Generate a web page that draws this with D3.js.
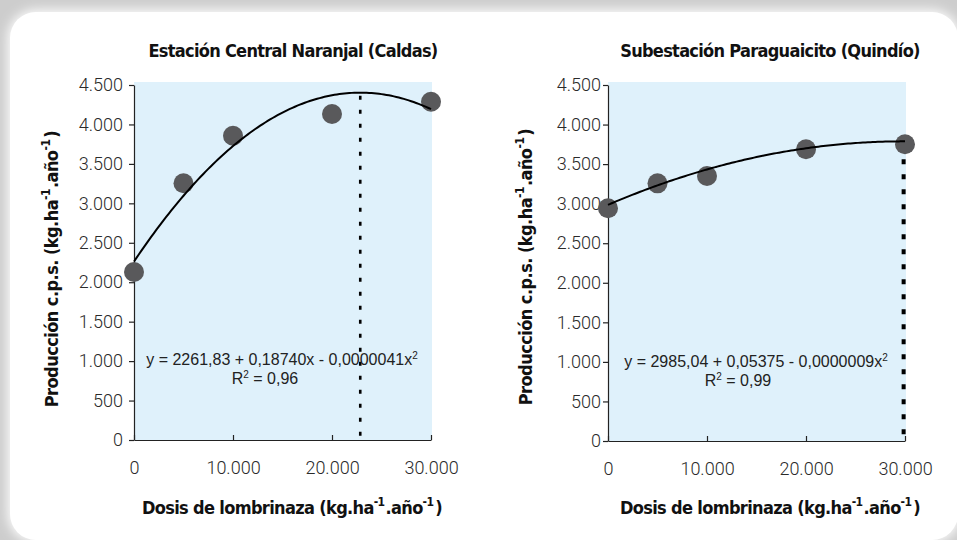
<!DOCTYPE html>
<html>
<head>
<meta charset="utf-8">
<script src="https://cdn.jsdelivr.net/npm/d3@7"></script>
<style>
  html, body { margin: 0; padding: 0; background: #fff; }
  svg { display: block; }
</style>
</head>
<body>
<svg id="chart" width="957" height="540"></svg>
<script>
// Doses of vermicompost applied (kg/ha/year)
const doses = [0, 5000, 10000, 20000, 30000];
// Coffee production (kg c.p.s./ha/year) at each station
const naranjalYield = [2130, 3254, 3857, 4132, 4288];
const paraguaicitoYield = [2942, 3257, 3350, 3688, 3751];
// Fitted quadratic coefficients [a, b, c] for y = a + b·x + c·x²
const naranjalCoef = [2261.83, 0.18740, -0.0000041];
const paraguaicitoCoef = [2985.04, 0.05375, -0.0000009];
// Axis ticks
const yTicks = [0, 500, 1000, 1500, 2000, 2500, 3000, 3500, 4000, 4500];
const xTicks = [0, 10000, 20000, 30000];
// Titles and text
const titles = ["Estación Central Naranjal (Caldas)", "Subestación Paraguaicito (Quindío)"];
const equations = ["y = 2261,83 + 0,18740x - 0,0000041x", "y = 2985,04 + 0,05375 - 0,0000009x"];
const r2Labels = ["R", "R"];
const r2Values = [" = 0,96", " = 0,99"];

const svg = d3.select("#chart");
const W = 957, H = 540;

const boldFont = "'Liberation Sans Narrow', 'DejaVu Sans Condensed', 'Roboto Condensed', sans-serif";
const lightFont = "Roboto, 'Open Sans', sans-serif";
const eqFont = "'Liberation Sans', Arial, sans-serif";

const locale = d3.formatLocale({ decimal: ",", thousands: ".", grouping: [3], currency: ["", ""] });
const fmt = locale.format(",");

// Backdrop: grey surround with a softly glowing white rounded card
const defs = svg.append("defs");
const glow = defs.append("filter").attr("id", "glow")
  .attr("x", "-5%").attr("y", "-5%").attr("width", "110%").attr("height", "110%");
glow.append("feGaussianBlur").attr("stdDeviation", 6);

svg.append("rect").attr("width", W).attr("height", H).attr("fill", "#cdcdcd");
svg.append("rect").attr("x", 8).attr("y", 10).attr("width", 952).attr("height", 532)
  .attr("rx", 28).attr("fill", "#ffffff").attr("filter", "url(#glow)");
svg.append("rect").attr("x", 10).attr("y", 12).attr("width", 948).attr("height", 528)
  .attr("rx", 26).attr("fill", "#ffffff");

const panels = [
  {
    yieldVals: naranjalYield, coef: naranjalCoef,
    x0: 134, x1: 431, y0: 440, y1: 85, bgTop: 82,
    tickPad: 6, guideDash: "4,10", guideWidth: 2.6,
    titleX: 293, eqX: 282, eqY: 365, r2X: 265, r2Y: 384,
    yTitleX: 58, yTitleY: 269, xTitleX: 292
  },
  {
    yieldVals: paraguaicitoYield, coef: paraguaicitoCoef,
    x0: 608, x1: 905, y0: 441, y1: 85, bgTop: 82,
    tickPad: 2, guideDash: "5,10", guideWidth: 4,
    titleX: 770, eqX: 756, eqY: 367, r2X: 738, r2Y: 386,
    yTitleX: 532, yTitleY: 267, xTitleX: 770
  }
];

panels.forEach((p, i) => {
  const g = svg.append("g");
  const x = d3.scaleLinear().domain([0, 30000]).range([p.x0, p.x1]);
  const y = d3.scaleLinear().domain([0, 4500]).range([p.y0, p.y1]);

  // plot background
  g.append("rect")
    .attr("x", p.x0).attr("y", p.bgTop)
    .attr("width", p.x1 - p.x0 + 1).attr("height", p.y0 - p.bgTop)
    .attr("fill", "#dff1fb");

  // y axis
  const yAxis = g.append("g").attr("transform", `translate(${p.x0},0)`)
    .call(d3.axisLeft(y).tickValues(yTicks).tickFormat(fmt).tickSize(5).tickPadding(p.tickPad).tickSizeOuter(0));
  // x axis (ticks point inward)
  const xAxis = g.append("g").attr("transform", `translate(0,${p.y0})`)
    .call(d3.axisBottom(x).tickValues(xTicks).tickFormat(fmt).tickSize(-5).tickPadding(21).tickSizeOuter(0));

  [yAxis, xAxis].forEach(ax => {
    ax.select(".domain").attr("stroke", "#222").attr("stroke-width", 1.2);
    ax.selectAll(".tick line").attr("stroke", "#222").attr("stroke-width", 1.2);
    ax.selectAll(".tick text")
      .attr("font-family", lightFont).attr("font-weight", 300)
      .attr("font-size", 18).attr("fill", "#2a2a2a");
  });

  const [a, b, c] = p.coef;
  const fit = v => a + b * v + c * v * v;
  const vertexX = Math.min(30000, -b / (2 * c));

  // guide line at the fitted maximum
  g.append("line")
    .attr("x1", x(vertexX)).attr("x2", x(vertexX))
    .attr("y1", y(fit(vertexX)) + 3).attr("y2", p.y0)
    .attr("stroke", "#000").attr("stroke-width", p.guideWidth)
    .attr("stroke-dasharray", p.guideDash);

  // observed points
  g.selectAll("circle.obs").data(doses.map((d, k) => [d, p.yieldVals[k]]))
    .join("circle").attr("class", "obs")
    .attr("cx", d => x(d[0])).attr("cy", d => y(d[1]))
    .attr("r", 10).attr("fill", "#59595b");

  // fitted curve
  const curvePts = d3.range(0, 30001, 250).map(v => [v, fit(v)]);
  g.append("path").datum(curvePts)
    .attr("d", d3.line().x(d => x(d[0])).y(d => y(d[1])).curve(d3.curveBasis))
    .attr("fill", "none").attr("stroke", "#000").attr("stroke-width", 2);

  // chart title
  g.append("text")
    .attr("x", p.titleX).attr("y", 57).attr("text-anchor", "middle")
    .attr("font-family", boldFont).attr("font-weight", "bold")
    .attr("font-size", 18).attr("letter-spacing", -0.7).attr("fill", "#111")
    .text(titles[i]);

  // equation and R²
  const eq = g.append("text")
    .attr("x", p.eqX).attr("y", p.eqY).attr("text-anchor", "middle")
    .attr("font-family", eqFont).attr("font-size", 16).attr("fill", "#222");
  eq.append("tspan").text(equations[i]);
  eq.append("tspan").attr("font-size", 10).attr("dy", -6).text("2");

  const r2 = g.append("text")
    .attr("x", p.r2X).attr("y", p.r2Y).attr("text-anchor", "middle")
    .attr("font-family", eqFont).attr("font-size", 16).attr("fill", "#222");
  r2.append("tspan").text(r2Labels[i]);
  r2.append("tspan").attr("font-size", 10).attr("dy", -6).text("2");
  r2.append("tspan").attr("dy", 6).text(r2Values[i]);

  // axis titles with superscript units
  const unitText = (sel, main) => {
    sel.append("tspan").text(main + "(kg.ha");
    sel.append("tspan").attr("font-size", 12).attr("dy", -8).text("-1");
    sel.append("tspan").attr("dy", 8).attr("dx", 1).text(".año");
    sel.append("tspan").attr("font-size", 12).attr("dy", -8).text("-1");
    sel.append("tspan").attr("dy", 8).attr("dx", 2).text(")");
  };

  const xt = g.append("text")
    .attr("x", p.xTitleX).attr("y", 514).attr("text-anchor", "middle")
    .attr("font-family", boldFont).attr("font-weight", "bold")
    .attr("font-size", 18).attr("letter-spacing", -0.65).attr("fill", "#111");
  unitText(xt, "Dosis de lombrinaza ");

  const yt = g.append("text")
    .attr("transform", `translate(${p.yTitleX},${p.yTitleY}) rotate(-90)`)
    .attr("text-anchor", "middle")
    .attr("font-family", boldFont).attr("font-weight", "bold")
    .attr("font-size", 18).attr("letter-spacing", -0.55).attr("fill", "#111");
  unitText(yt, "Producción c.p.s. ");
});
</script>
</body>
</html>
